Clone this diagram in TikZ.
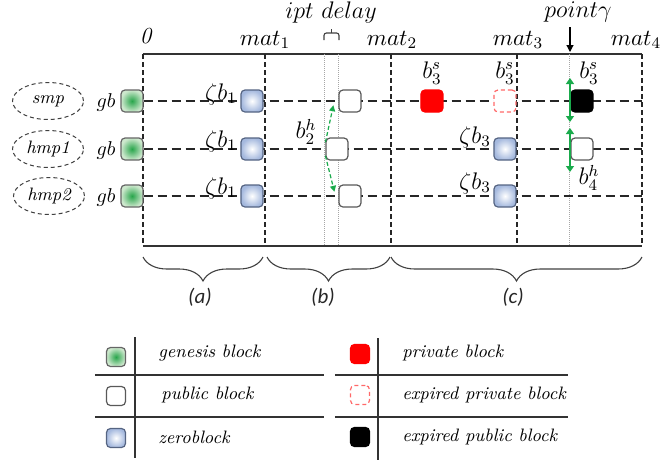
\RequirePackage{fix-cm}
\documentclass[tikz,border=0pt]{standalone}
\usepackage{fontspec}
\newfontfamily\carlito{Carlito}
\usetikzlibrary{shapes.geometric,decorations.pathreplacing,arrows.meta,backgrounds}
\definecolor{gbgreen}{RGB}{40,165,75}
\definecolor{gblight}{RGB}{205,232,205}
\definecolor{zblue}{RGB}{165,185,222}
\definecolor{zborder}{RGB}{85,100,130}
\definecolor{agreen}{RGB}{25,170,75}
\definecolor{expred}{RGB}{255,105,105}
\tikzset{
  blk/.style={rectangle, rounded corners=2pt, minimum size=11pt, inner sep=0pt, line width=0.6pt},
  gbbox/.style={blk, draw=black!60, shading=radial, inner color=gbgreen, outer color=gblight},
  zbox/.style={blk, draw=zborder, shading=radial, inner color=white, outer color=zblue},
  pubbox/.style={blk, draw=black!65, fill=white},
  privbox/.style={blk, draw=red, fill=red},
  expbox/.style={blk, draw=expred, fill=white, dash pattern=on 2pt off 1.5pt},
  epubbox/.style={blk, draw=black, fill=black},
  icon/.style={minimum size=9.5pt},
  frame/.style={line width=0.55pt, black!80},
  hdash/.style={line width=0.55pt, black!85, dash pattern=on 4.5pt off 2.5pt},
  vdash/.style={line width=0.55pt, black!85, dash pattern=on 2.5pt off 1.5pt},
  dotl/.style={line width=0.5pt, black!35, dash pattern=on 0.5pt off 0.5pt},
  ell/.style={ellipse, draw=black!75, line width=0.5pt, dash pattern=on 2pt off 1.5pt, minimum width=35.5pt, minimum height=18.5pt, inner sep=0pt, font=\fontsize{9}{11}\selectfont\itshape},
  mlab/.style={inner sep=0pt, font=\fontsize{12}{14}\selectfont},
  glab/.style={inner sep=0pt, font=\fontsize{10}{12}\selectfont},
  toplab/.style={inner sep=0pt, font=\fontsize{11.5}{13}\selectfont},
  plab/.style={inner sep=0pt, font=\fontsize{10.5}{12}\selectfont\carlito\itshape, text=black!85},
  legtext/.style={inner sep=0pt, anchor=west, font=\fontsize{9}{11}\selectfont\itshape},
  legline/.style={line width=0.6pt, black!80},
  garrow/.style={agreen, line width=0.6pt, dash pattern=on 2pt off 1.2pt, -{Triangle[length=3pt,width=3pt]}},
  gdarrow/.style={agreen, line width=0.7pt, {Triangle[length=3pt,width=4pt]}-{Triangle[length=3pt,width=4pt]}},
  brc/.style={decorate, line width=0.55pt, black!75}
}
\begin{document}
\begin{tikzpicture}[x=0.5pt,y=-0.5pt]
\useasboundingbox (0,0) rectangle (661,462);

% frame coordinates
\coordinate (tl) at (143,54);  \coordinate (tr) at (642,54);
\coordinate (bl) at (143,246); \coordinate (br) at (642,246);
\coordinate (m1t) at (265,54); \coordinate (m1b) at (265,246);
\coordinate (m2t) at (391,54); \coordinate (m2b) at (391,246);
\coordinate (m3t) at (517,54); \coordinate (m3b) at (517,246);
\coordinate (d1t) at (325,54); \coordinate (d1b) at (325,246);
\coordinate (d2t) at (339,54); \coordinate (d2b) at (339,246);
\coordinate (d3t) at (570,54); \coordinate (d3b) at (570,246);
\coordinate (re1) at (642,101); \coordinate (re2) at (642,149); \coordinate (re3) at (642,196);

% ellipses and gb labels
\node[ell] (e1) at (48,101) {smp};
\node[ell] (e2) at (48,149) {hmp1};
\node[ell] (e3) at (49,196) {hmp2};
\node[glab] (gl1) at (106,102) {$gb$};
\node[glab] (gl2) at (106,150) {$gb$};
\node[glab] (gl3) at (106,197) {$gb$};

% blocks
\node[gbbox] (g1) at (132,101) {};
\node[gbbox] (g2) at (132,149) {};
\node[gbbox] (g3) at (132,196) {};
\node[zbox] (z1) at (252,101) {};
\node[zbox] (z2) at (252,149) {};
\node[zbox] (z3) at (252,196) {};
\node[pubbox] (p1) at (350,101) {};
\node[pubbox] (p2) at (337,149) {};
\node[pubbox] (p3) at (350,196) {};
\node[privbox] (pr) at (432,101) {};
\node[expbox] (ex) at (505,101) {};
\node[zbox] (zb2) at (505,149) {};
\node[zbox] (zb3) at (505,196) {};
\node[epubbox] (bk) at (582,101) {};
\node[pubbox] (p4) at (582,149) {};

% background lines
\begin{scope}[on background layer]
\draw[frame] (tl) -- (tr);
\draw[frame] (bl) -- (br);
\draw[vdash] (tl) -- (bl);
\draw[vdash] (tr) -- (br);
\draw[vdash] (m1t) -- (m1b);
\draw[vdash] (m2t) -- (m2b);
\draw[vdash] (m3t) -- (m3b);
\draw[dotl] (d1t) -- (d1b);
\draw[dotl] (d2t) -- (d2b);
\draw[dotl] (d3t) -- (d3b);
\draw[hdash] (g1.east) -- (re1);
\draw[hdash] (g2.east) -- (re2);
\draw[hdash] (g3.east) -- (re3);
\end{scope}

% block labels
\node[mlab] (lz1) at (221,94) {$\zeta b_1$};
\node[mlab] (lz2) at (221,141) {$\zeta b_1$};
\node[mlab] (lz3) at (221,188) {$\zeta b_1$};
\node[mlab] (lb2) at (306,132) {$b_2^h$};
\node[mlab] (lb3a) at (432,73) {$b_3^s$};
\node[mlab] (lb3b) at (505,73) {$b_3^s$};
\node[mlab] (lb3c) at (589,73) {$b_3^s$};
\node[mlab] (lzb2) at (475,137) {$\zeta b_3$};
\node[mlab] (lzb3) at (475,183) {$\zeta b_3$};
\node[mlab] (lb4) at (589,178) {$b_4^h$};

% green arrows
\draw[garrow] (p2.150) -- ([xshift=-2.5pt]p1.200);
\draw[garrow] (p2.210) -- ([xshift=-2pt]p3.160);
\coordinate (ga1) at (570,78); \coordinate (ga2) at (570,122);
\coordinate (ga3) at (570,128); \coordinate (ga4) at (570,172);
\draw[gdarrow] (ga1) -- (ga2);
\draw[gdarrow] (ga3) -- (ga4);

% top labels
\node[toplab] (t0) at (146,36) {\textit{0}};
\node[toplab] (tm1) at (265,40) {$mat_1$};
\node[toplab] (tm2) at (392,40) {$mat_2$};
\node[toplab] (tm3) at (518,40) {$mat_3$};
\node[toplab] (tm4) at (636,40) {$mat_4$};
\node[mlab] (tipt) at (331,12) {$ipt\ delay$};
\node[mlab] (tpg) at (578,12) {$point\gamma$};
\coordinate (pa1) at (570,27); \coordinate (pa2) at (570,52);
\draw[line width=0.6pt, -{Triangle[length=3.5pt,width=3.5pt]}] (pa1) -- (pa2);
% ipt delay bracket
\coordinate (ib1) at (324,40); \coordinate (ib2) at (339,40);
\coordinate (ibm) at (331.5,33); \coordinate (ibt) at (331.5,28.5);
\draw[line width=0.55pt, black!75, rounded corners=1.2pt] (ib1) -- (324,33) -- (ibm) -- (339,33) -- (ib2);
\draw[line width=0.55pt, black!75] (ibm) -- (ibt);

% bottom braces
\coordinate (ba1) at (143,257); \coordinate (ba2) at (263,257);
\coordinate (bb1) at (267,257); \coordinate (bb2) at (390,257);
\coordinate (bc1) at (391,257); \coordinate (bc2) at (642,257);
\draw[brc, decoration={brace, mirror, amplitude=12pt}] (ba1) -- (ba2);
\draw[brc, decoration={brace, mirror, amplitude=12pt}] (bb1) -- (bb2);
\draw[brc, decoration={brace, mirror, amplitude=12pt}] (bc1) -- (bc2);
\node[plab] (la) at (200,297) {(a)};
\node[plab] (lb) at (323,297) {(b)};
\node[plab] (lc) at (513,297) {(c)};

% legend
\coordinate (lv1t) at (135,337); \coordinate (lv1b) at (135,458);
\coordinate (lv2t) at (378,338); \coordinate (lv2b) at (378,460);
\coordinate (lh1a) at (95,375);  \coordinate (lh1b) at (324,375);
\coordinate (lh2a) at (95,417);  \coordinate (lh2b) at (324,417);
\coordinate (lh3a) at (335,375); \coordinate (lh3b) at (568,375);
\coordinate (lh4a) at (335,417); \coordinate (lh4b) at (568,417);
\draw[legline] (lv1t) -- (lv1b);
\draw[legline] (lv2t) -- (lv2b);
\draw[legline] (lh1a) -- (lh1b);
\draw[legline] (lh2a) -- (lh2b);
\draw[legline] (lh3a) -- (lh3b);
\draw[legline] (lh4a) -- (lh4b);
\node[gbbox, icon] (ic1) at (116,357) {};
\node[pubbox, icon] (ic2) at (116,396) {};
\node[zbox, icon] (ic3) at (116,438) {};
\node[privbox, icon] (ic4) at (360,354) {};
\node[expbox, icon] (ic5) at (360,395) {};
\node[epubbox, icon] (ic6) at (360,437) {};
\node[legtext] (tx1) at (158,353) {genesis block};
\node[legtext] (tx2) at (161,395) {public block};
\node[legtext] (tx3) at (158,437) {zeroblock};
\node[legtext] (tx4) at (402,353) {private block};
\node[legtext] (tx5) at (402,395) {expired private block};
\node[legtext] (tx6) at (402,437) {expired public block};
\end{tikzpicture}
\end{document}
